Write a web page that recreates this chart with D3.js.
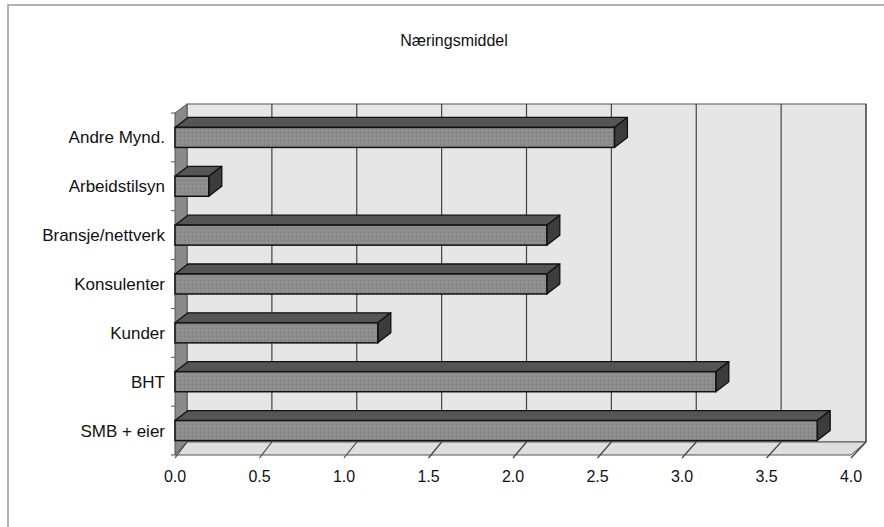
<!DOCTYPE html>
<html><head><meta charset="utf-8">
<script src="https://cdn.jsdelivr.net/npm/d3@7"></script>
<style>body{margin:0;background:#fff}svg{display:block}text{font-family:"Liberation Sans",Arial,sans-serif;fill:#111}</style>
</head><body>
<svg id="c" width="884" height="527"></svg>
<script>
const title = "Næringsmiddel";
const categories = ["SMB + eier","BHT","Kunder","Konsulenter","Bransje/nettverk","Arbeidstilsyn","Andre Mynd."];
const values = [3.8,3.2,1.2,2.2,2.2,0.2,2.6];
const ticks = [0,0.5,1,1.5,2,2.5,3,3.5,4];

const svg = d3.select("#c");
// outer frame (only left/top visible)
svg.append("rect").attr("x",8).attr("y",5).attr("width",900).attr("height",540)
  .attr("fill","none").attr("stroke","#9a9a9a").attr("stroke-width",1.5);

// texture pattern
const defs = svg.append("defs");
const pat = defs.append("pattern").attr("id","dith").attr("width",4).attr("height",4).attr("patternUnits","userSpaceOnUse");
pat.append("rect").attr("width",4).attr("height",4).attr("fill","#8d8d8d");
pat.append("rect").attr("x",0).attr("y",0).attr("width",1).attr("height",1).attr("fill","#7a7a7a");
pat.append("rect").attr("x",2).attr("y",2).attr("width",1).attr("height",1).attr("fill","#9c9c9c");

const x = d3.scaleLinear().domain([0,4]).range([175,851]);      // front plane
const xb = d3.scaleLinear().domain([0,4]).range([187,866]);     // back wall
const y = d3.scaleBand().domain(categories).range([455,113]);   // front plane
const wdy = -13; // wall depth
const bdx = 13, bdy = -10, bh = 20; // bar depth and thickness

const yTopBack = 104, yBotBack = 442, yBotFront = 455, yTopFront = 113;

// back wall
svg.append("rect").attr("x",xb(0)).attr("y",yTopBack).attr("width",xb(4)-xb(0)).attr("height",yBotBack-yTopBack)
  .attr("fill","#e6e6e6").attr("stroke","#555").attr("stroke-width",1);
// back gridlines
svg.selectAll(".bg").data(ticks.slice(1)).enter().append("line")
  .attr("x1",d=>xb(d)).attr("x2",d=>xb(d)).attr("y1",yTopBack).attr("y2",yBotBack)
  .attr("stroke","#444").attr("stroke-width",1.2);
// left wall
svg.append("polygon").attr("points",[[x(0),yBotFront],[x(0),yTopFront],[xb(0),yTopBack],[xb(0),yBotBack]].join(" "))
  .attr("fill","#8a8a8a").attr("stroke","#555").attr("stroke-width",1);
// floor
svg.append("polygon").attr("points",[[x(0),yBotFront],[x(4),yBotFront],[xb(4),yBotBack],[xb(0),yBotBack]].join(" "))
  .attr("fill","#dedede").attr("stroke","#555").attr("stroke-width",1);
svg.selectAll(".fg").data(ticks).enter().append("line")
  .attr("x1",d=>x(d)).attr("x2",d=>xb(d)).attr("y1",yBotFront+3).attr("y2",yBotBack)
  .attr("stroke","#444").attr("stroke-width",1.2);

// left ticks at category boundaries
const bounds = categories.map(c=>y(c)).concat([y.range()[0]]);
svg.selectAll(".lt").data(bounds).enter().append("line")
  .attr("x1",x(0)-4).attr("x2",x(0)).attr("y1",d=>d).attr("y2",d=>d)
  .attr("stroke","#555");

// bars
const bars = svg.selectAll(".bar").data(categories.map((c,i)=>({c,v:values[i]}))).enter().append("g");
bars.each(function(d){
  const g = d3.select(this);
  const cy = y(d.c) + y.bandwidth()/2;
  const yt = cy - bh/2, yb = cy + bh/2;
  const x0 = x(0), x1 = x(d.v);
  g.append("polygon").attr("points",[[x0,yt],[x1,yt],[x1+bdx,yt+bdy],[x0+bdx,yt+bdy]].join(" "))
    .attr("fill","#555").attr("stroke","#111").attr("stroke-width",1.3).attr("stroke-linejoin","round");
  g.append("polygon").attr("points",[[x1,yt],[x1+bdx,yt+bdy],[x1+bdx,yb+bdy],[x1,yb]].join(" "))
    .attr("fill","#3c3c3c").attr("stroke","#111").attr("stroke-width",1.3).attr("stroke-linejoin","round");
  g.append("rect").attr("x",x0).attr("y",yt).attr("width",x1-x0).attr("height",bh)
    .attr("fill","url(#dith)").attr("stroke","#111").attr("stroke-width",1.5);
});

// category labels
svg.selectAll(".cl").data(categories).enter().append("text")
  .attr("x",165).attr("y",d=>y(d)+y.bandwidth()/2+6)
  .attr("text-anchor","end").attr("font-size",17).text(d=>d);

// x tick labels
svg.selectAll(".xl").data(ticks).enter().append("text")
  .attr("x",d=>x(d)).attr("y",482).attr("text-anchor","middle").attr("font-size",16)
  .text(d=>d3.format(".1f")(d));

// title
svg.append("text").attr("x",454).attr("y",46).attr("text-anchor","middle").attr("font-size",16).text(title);
</script>
</body></html>
